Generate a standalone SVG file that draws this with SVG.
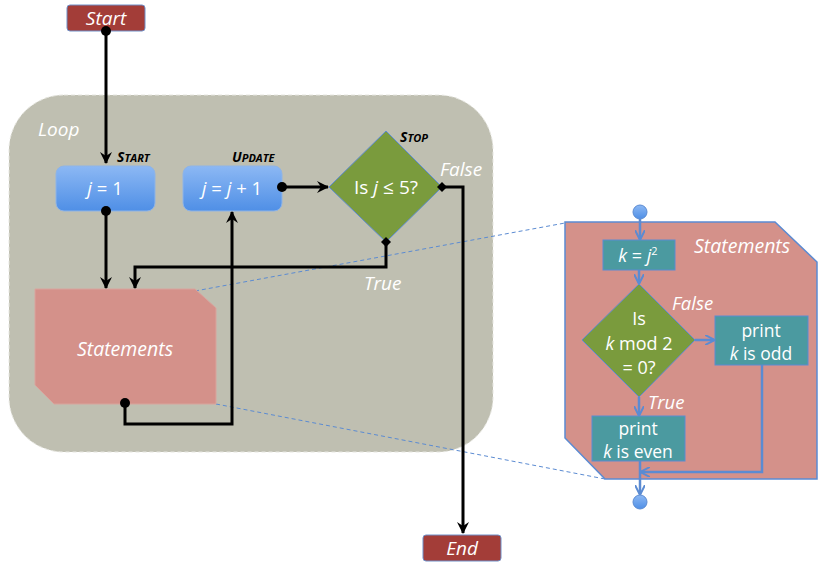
<svg xmlns="http://www.w3.org/2000/svg" width="818" height="563" viewBox="0 0 818 563">
<style>
.t{font-family:"Open Sans","Liberation Sans",sans-serif;fill:#fff}
.it{font-style:italic}
.lbl{font-family:"Open Sans","Liberation Sans",sans-serif;font-style:italic;font-weight:bold;fill:#000}
.bk{stroke:#000;stroke-width:3;fill:none}
.bl{stroke:#5b8bd2;stroke-width:2.5;fill:none}
.dash{stroke:#5b8bd2;stroke-width:1;stroke-dasharray:4 3;fill:none}
.term{fill:#a33d38;stroke:#6f90c8;stroke-width:1}
.blue{fill:url(#gb);stroke:#8fb4e6;stroke-width:1}
.teal{fill:#4b9aa0;stroke:#5b8bd2;stroke-width:1}
.dia{fill:#7a9b3d;stroke:#5b8bd2;stroke-width:1}
</style>
<defs>
<linearGradient id="gb" x1="0" y1="0" x2="0" y2="1">
<stop offset="0" stop-color="#8cb8f4"/><stop offset="1" stop-color="#4f8fe6"/>
</linearGradient>
<marker id="ab" viewBox="0 0 12 12" refX="11" refY="6" markerWidth="12" markerHeight="12" markerUnits="userSpaceOnUse" orient="auto">
<path d="M0,0 L12,6 L0,12 L4,6 Z" fill="#000"/>
</marker>
<marker id="dot" viewBox="0 0 10 10" refX="5" refY="5" markerWidth="10" markerHeight="10" markerUnits="userSpaceOnUse">
<circle cx="5" cy="5" r="5" fill="#000"/>
</marker>
<marker id="dia" viewBox="0 0 10 10" refX="5" refY="5" markerWidth="10" markerHeight="10" markerUnits="userSpaceOnUse">
<path d="M5,0 L10,5 L5,10 L0,5 Z" fill="#000"/>
</marker>
<marker id="abl" viewBox="0 0 10 10" refX="9" refY="5" markerWidth="10" markerHeight="10" markerUnits="userSpaceOnUse" orient="auto">
<path d="M0,0 L10,5 L0,10" fill="none" stroke="#5b8bd2" stroke-width="2"/>
</marker>
</defs>

<g id="loop">
<rect x="9" y="95" width="484" height="357" rx="55" fill="#bfbfb1" stroke="#e6e6e0" stroke-width="1" stroke-dasharray="4 3"/>
<text class="t it" x="38" y="136" font-size="19">Loop</text>
</g>

<g id="zoom-lines">
<line class="dash" x1="195" y1="291" x2="565" y2="223"/>
<line class="dash" x1="216" y1="404" x2="605" y2="479"/>
</g>

<g id="start">
<rect class="term" x="67" y="5" width="78" height="26" rx="3"/>
<text class="t it" x="106" y="25" font-size="19" text-anchor="middle">Start</text>
</g>
<g id="end">
<rect class="term" x="423" y="535" width="78" height="26" rx="3"/>
<text class="t it" x="462" y="555" font-size="19" text-anchor="middle">End</text>
</g>

<g id="init">
<rect class="blue" x="56" y="166" width="99" height="45" rx="8"/>
<text class="t" x="105" y="195" font-size="18.5" text-anchor="middle"><tspan font-style="italic">j</tspan> = 1</text>
<text class="lbl" x="117" y="162" font-size="14">S<tspan font-size="11">TART</tspan></text>
</g>
<g id="update">
<rect class="blue" x="183" y="166" width="99" height="45" rx="8"/>
<text class="t" x="232" y="195" font-size="18.5" text-anchor="middle"><tspan font-style="italic">j</tspan> = <tspan font-style="italic">j</tspan> + 1</text>
<text class="lbl" x="232" y="162" font-size="14">U<tspan font-size="11">PDATE</tspan></text>
</g>
<g id="stop">
<polygon class="dia" points="386,131 442,187 386,242 329,187"/>
<text class="t" x="386" y="194" font-size="19" text-anchor="middle">Is <tspan font-style="italic">j</tspan> ≤ 5?</text>
<text class="lbl" x="400" y="142" font-size="14">S<tspan font-size="11">TOP</tspan></text>
<text class="t it" x="440" y="176" font-size="19">False</text>
<text class="t it" x="364" y="290" font-size="19">True</text>
</g>
<g id="statements">
<polygon points="35,289 195,289 216,308 216,404 54,404 35,385" fill="#d4918a" stroke="#d9a49d" stroke-width="1"/>
<text class="t it" x="125" y="356" font-size="19.5" text-anchor="middle">Statements</text>
</g>

<g id="connectors">
<path class="bk" d="M106,31 V163" marker-start="url(#dot)" marker-end="url(#ab)"/>
<path class="bk" d="M106,211 V288" marker-start="url(#dot)" marker-end="url(#ab)"/>
<path class="bk" d="M282,187 H328" marker-start="url(#dot)" marker-end="url(#ab)"/>
<path class="bk" d="M442,187 H463 V533" marker-start="url(#dia)" marker-end="url(#ab)"/>
<path class="bk" d="M386,242 V267 H135 V288" marker-start="url(#dia)" marker-end="url(#ab)"/>
<path class="bk" d="M125,403 V424 H232 V212" marker-start="url(#dot)" marker-end="url(#ab)"/>
</g>

<g id="detail">
<polygon points="565,222 775,222 817,262 817,479 605,479 565,438" fill="#d4918a" stroke="#5b8bd2" stroke-width="1.5"/>
<text class="t it" x="694" y="253" font-size="19.5">Statements</text>
</g>
<g id="square">
<rect class="teal" x="603" y="240" width="72" height="30"/>
<text class="t" x="638" y="262" font-size="18" text-anchor="middle"><tspan font-style="italic">k</tspan> = <tspan font-style="italic">j</tspan><tspan font-size="11" dy="-7">2</tspan></text>
</g>
<g id="mod">
<polygon class="dia" points="639,284 695,340 639,397 582,340"/>
<text class="t" x="639" y="325" font-size="18" text-anchor="middle">Is</text>
<text class="t" x="639" y="350" font-size="18" text-anchor="middle"><tspan font-style="italic">k</tspan> mod 2</text>
<text class="t" x="639" y="374" font-size="18" text-anchor="middle">= 0?</text>
<text class="t it" x="672" y="310" font-size="18.5">False</text>
<text class="t it" x="648" y="409" font-size="18.5">True</text>
</g>
<g id="odd">
<rect class="teal" x="715" y="316" width="93" height="49"/>
<text class="t" x="761" y="337" font-size="17.5" text-anchor="middle">print</text>
<text class="t" x="761" y="360" font-size="17.5" text-anchor="middle"><tspan font-style="italic">k</tspan> is odd</text>
</g>
<g id="even">
<rect class="teal" x="592" y="416" width="93" height="45"/>
<text class="t" x="638" y="435" font-size="17.5" text-anchor="middle">print</text>
<text class="t" x="638" y="458" font-size="17.5" text-anchor="middle"><tspan font-style="italic">k</tspan> is even</text>
</g>
<g id="in-dot"><circle cx="640" cy="212" r="7" fill="url(#gb)" stroke="#5b8bd2" stroke-width="1"/></g>
<g id="out-dot"><circle cx="640" cy="502" r="7" fill="url(#gb)" stroke="#5b8bd2" stroke-width="1"/></g>

<g id="detail-connectors">
<path class="bl" d="M640,219 V239" marker-end="url(#abl)"/>
<path class="bl" d="M639,270 V283" marker-end="url(#abl)"/>
<path class="bl" d="M695,340 H714" marker-end="url(#abl)"/>
<path class="bl" d="M639,397 V415" marker-end="url(#abl)"/>
<path class="bl" d="M762,365 V472 H641" marker-end="url(#abl)"/>
<path class="bl" d="M640,461 V494" marker-end="url(#abl)"/>
</g>
</svg>
